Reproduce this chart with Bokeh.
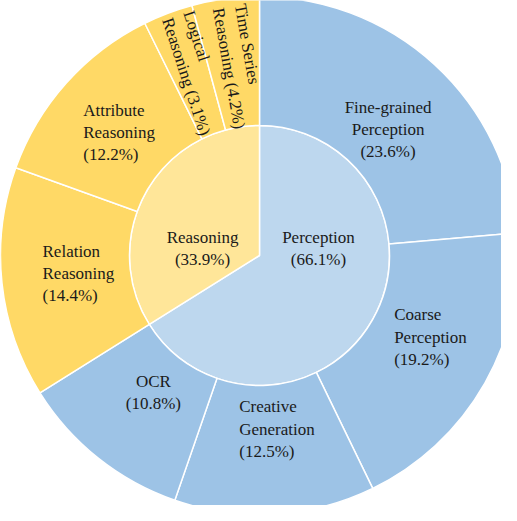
import math
from bokeh.plotting import figure
from bokeh.models import Range1d, ColumnDataSource
from bokeh.core.properties import value
from bokeh.embed import file_html
from bokeh.resources import INLINE

# ---- data ----
inner_labels = ["Perception", "Reasoning"]
inner_values = [66.1, 33.9]

outer_labels = ["Fine-grained Perception", "Coarse Perception", "Creative Generation", "OCR",
                "Relation Reasoning", "Attribute Reasoning", "Logical Reasoning", "Time Series Reasoning"]
outer_values = [23.6, 19.2, 12.5, 10.8, 14.4, 12.2, 3.1, 4.2]
outer_parent = ["Perception", "Perception", "Perception", "Perception",
                "Reasoning", "Reasoning", "Reasoning", "Reasoning"]

# ---- styles ----
inner_colors = {"Perception": "#BDD7EE", "Reasoning": "#FFE699"}
outer_colors = {"Perception": "#9DC3E6", "Reasoning": "#FFD966"}
R_IN = 130
R_OUT = 259
FONT = "Liberation Serif"
FSIZE = "17px"

wrap = {
    "Fine-grained Perception": "Fine-grained\nPerception\n",
    "Coarse Perception": "Coarse\nPerception\n",
    "Creative Generation": "Creative\nGeneration\n",
    "OCR": "OCR\n",
    "Relation Reasoning": "Relation\nReasoning\n",
    "Attribute Reasoning": "Attribute\nReasoning\n",
    "Logical Reasoning": "Logical\nReasoning ",
    "Time Series Reasoning": "Time Series\nReasoning ",
    "Perception": "Perception\n",
    "Reasoning": "Reasoning\n",
}
align = {
    "Fine-grained Perception": "center", "Coarse Perception": "left", "Creative Generation": "left",
    "OCR": "center", "Relation Reasoning": "left", "Attribute Reasoning": "left",
    "Perception": "center", "Reasoning": "center",
}
nudge = {
    "Fine-grained Perception": (7, -7), "Coarse Perception": (-22, 7), "Creative Generation": (-31, 6),
    "OCR": (6, 4), "Relation Reasoning": (-38, 1), "Attribute Reasoning": (-42, 3),
    "Perception": (6.5, 36), "Reasoning": (-4.5, -22),
    "Logical Reasoning": (5.5, -3), "Time Series Reasoning": (-10, -6),
}
rotated = {"Logical Reasoning": -72, "Time Series Reasoning": -80}


def to_bokeh(frac):
    return math.pi / 2 - 2 * math.pi * frac


def polar(r, frac):
    a = 2 * math.pi * frac
    return r * math.sin(a), r * math.cos(a)


p = figure(width=501, height=505, output_backend="svg", toolbar_location=None,
           x_range=Range1d(-259, 242), y_range=Range1d(-250, 255),
           min_border=0)
p.axis.visible = False
p.grid.visible = False
p.outline_line_color = None
p.background_fill_color = "white"
p.border_fill_color = "white"

tot = sum(inner_values)
cum = 0.0
in_src = dict(s=[], e=[], c=[])
for lab, v in zip(inner_labels, inner_values):
    f0, f1 = cum / tot, (cum + v) / tot
    in_src["s"].append(to_bokeh(f0)); in_src["e"].append(to_bokeh(f1)); in_src["c"].append(inner_colors[lab])
    cum += v
p.annular_wedge(x=0, y=0, inner_radius=0, outer_radius=R_IN, start_angle="s", end_angle="e",
                direction="clock", fill_color="c", line_color="white", line_width=1.5,
                source=ColumnDataSource(in_src))

cum = 0.0
out_src = dict(s=[], e=[], c=[])
out_frac = []
for lab, v, par in zip(outer_labels, outer_values, outer_parent):
    f0, f1 = cum / tot, (cum + v) / tot
    out_frac.append((f0, f1))
    out_src["s"].append(to_bokeh(f0)); out_src["e"].append(to_bokeh(f1)); out_src["c"].append(outer_colors[par])
    cum += v
p.annular_wedge(x=0, y=0, inner_radius=R_IN, outer_radius=R_OUT, start_angle="s", end_angle="e",
                direction="clock", fill_color="c", line_color="white", line_width=1.5,
                source=ColumnDataSource(out_src))


def add_label(x, y, txt, al="center", baseline="middle", angle=0.0):
    p.text(x=[x], y=[y], text=[txt], text_font=value(FONT), text_font_size=FSIZE,
           text_color="#1a1a1a", text_align=al, text_baseline=baseline, angle=angle,
           text_line_height=1.17)

cum = 0.0
for lab, v in zip(inner_labels, inner_values):
    mid = (cum + v / 2) / tot
    bx, by = polar(60, mid)
    dx, dy = nudge[lab]
    add_label(bx + dx, by + dy, f"{wrap[lab]}({v}%)", align[lab])
    cum += v

for (lab, v), (f0, f1) in zip(zip(outer_labels, outer_values), out_frac):
    dx, dy = nudge[lab]
    if lab in rotated:
        bx, by = polar(R_OUT, f1)
        add_label(bx + dx, by + dy, f"{wrap[lab]}({v}%)", "left", "top",
                  math.radians(rotated[lab]))
    else:
        bx, by = polar(180, (f0 + f1) / 2)
        add_label(bx + dx, by + dy, f"{wrap[lab]}({v}%)", align[lab])

open("out.html", "w").write(file_html(p, INLINE))
